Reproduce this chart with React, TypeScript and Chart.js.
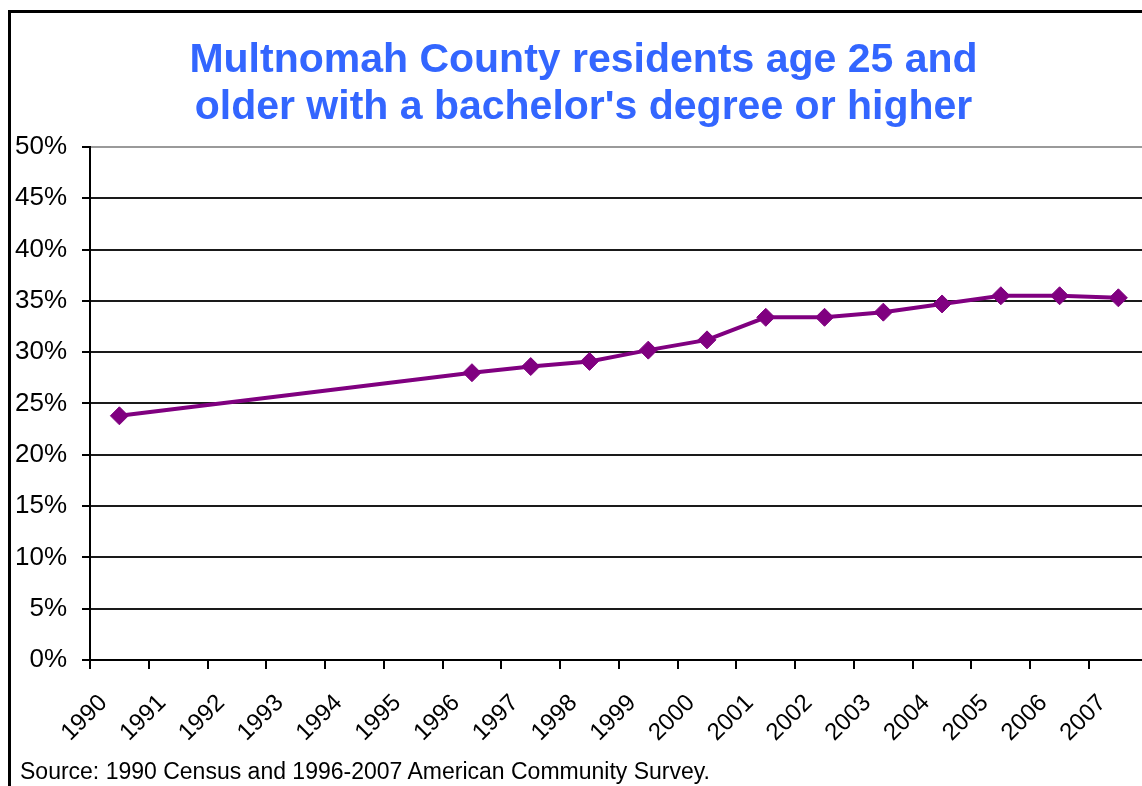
import { useEffect, useRef } from "react";
import { Chart, registerables } from "chart.js";

Chart.register(...registerables);

const years = [
  "1990", "1991", "1992", "1993", "1994", "1995", "1996", "1997", "1998",
  "1999", "2000", "2001", "2002", "2003", "2004", "2005", "2006", "2007",
];

// percent of residents age 25+ with a bachelor's degree or higher (no data 1991-1995)
const bachelorsShare: (number | null)[] = [
  23.8, null, null, null, null, null, 28.0, 28.6, 29.1,
  30.2, 31.2, 33.4, 33.4, 33.9, 34.7, 35.5, 35.5, 35.3,
];

const yTickValues = [0, 5, 10, 15, 20, 25, 30, 35, 40, 45, 50];

const titleLines = [
  "Multnomah County residents age 25 and",
  "older with a bachelor's degree or higher",
];

const sourceNote = "Source: 1990 Census and 1996-2007 American Community Survey.";

const FONT = "'Liberation Sans', Arial, sans-serif";

export default function App() {
  const canvasRef = useRef<HTMLCanvasElement | null>(null);

  useEffect(() => {
    if (!canvasRef.current) return;
    const chart = new Chart(canvasRef.current, {
      type: "line",
      data: {
        labels: years,
        datasets: [
          {
            label: "Bachelor's degree or higher",
            data: bachelorsShare,
            borderColor: "#800080",
            backgroundColor: "#800080",
            borderWidth: 4,
            pointStyle: "rectRot",
            pointRadius: 9,
            pointBorderWidth: 1,
            pointBorderColor: "#800080",
            pointBackgroundColor: "#800080",
            spanGaps: true,
            tension: 0,
          },
        ],
      },
      options: {
        responsive: false,
        animation: false,
        layout: { padding: { left: 8, right: 0, top: 0, bottom: 26 } },
        plugins: {
          legend: { display: false },
          tooltip: { enabled: false },
          title: {
            display: true,
            text: titleLines,
            color: "#3366FF",
            font: { family: FONT, size: 41, weight: "bold", lineHeight: 1.146 },
            padding: { top: 37, bottom: 16 },
          },
        },
        scales: {
          x: {
            type: "category",
            offset: true,
            grid: {
              offset: true,
              drawOnChartArea: false,
              drawTicks: true,
              tickLength: 9,
              color: "#000",
              tickColor: "#000",
              lineWidth: 2,
            },
            border: { display: true, color: "#000", width: 2 },
            ticks: {
              autoSkip: false,
              minRotation: 45,
              maxRotation: 45,
              padding: 20,
              labelOffset: -16,
              color: "#000",
              font: { family: FONT, size: 24 },
            },
            afterFit: (scale: any) => {
              scale.height = 100;
            },
          },
          y: {
            min: 0,
            max: 50,
            afterBuildTicks: (scale: any) => {
              scale.ticks = yTickValues.map((v) => ({ value: v }));
            },
            ticks: {
              padding: 15,
              color: "#000",
              font: { family: FONT, size: 26 },
              callback: (v: any) => `${v}%`,
            },
            grid: {
              drawTicks: true,
              tickLength: 8,
              lineWidth: 2,
              tickColor: "#000",
              color: (ctx: any) => (ctx.tick && ctx.tick.value === 50 ? "#9a9a9a" : "#1a1a1a"),
            },
            border: { display: true, color: "#000", width: 2 },
            afterFit: (scale: any) => {
              scale.width = 82;
            },
          },
        },
      },
    });
    return () => chart.destroy();
  }, []);

  return (
    <div
      style={{
        position: "fixed",
        left: 0,
        top: 0,
        width: 1142,
        height: 786,
        overflow: "hidden",
        background: "#fff",
      }}
    >
      <canvas
        ref={canvasRef}
        width={1159}
        height={786}
        style={{ position: "absolute", left: 0, top: 0, width: 1159, height: 786 }}
      />
      <div
        style={{
          position: "absolute",
          left: 8,
          top: 10,
          width: 1300,
          height: 900,
          borderLeft: "3px solid #000",
          borderTop: "3px solid #000",
          pointerEvents: "none",
        }}
      />
      <div
        style={{
          position: "absolute",
          left: 20,
          top: 760,
          fontFamily: FONT,
          fontSize: 23,
          lineHeight: "22px",
          color: "#000",
          whiteSpace: "nowrap",
        }}
      >
        {sourceNote}
      </div>
    </div>
  );
}
